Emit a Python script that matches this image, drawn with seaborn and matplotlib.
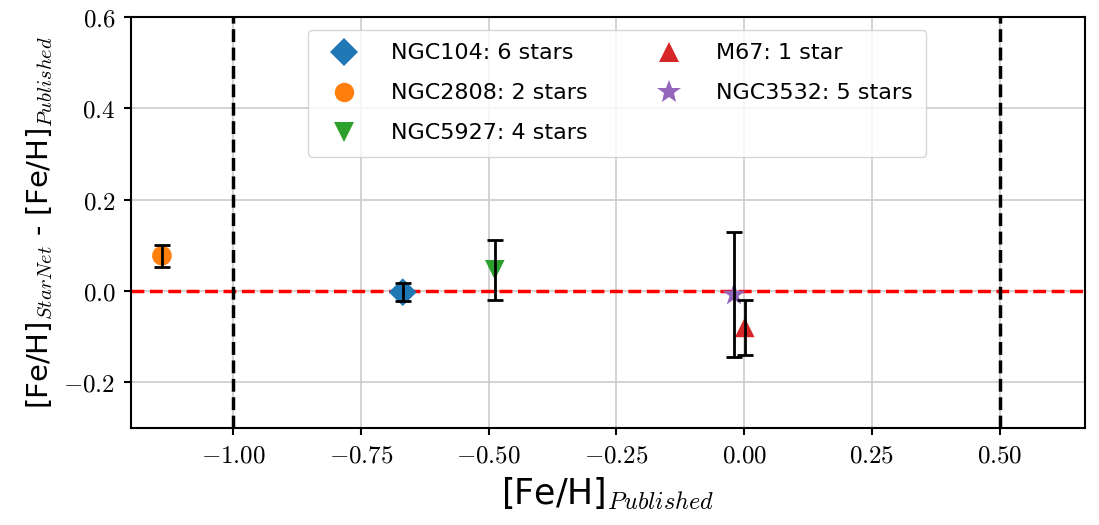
import matplotlib
matplotlib.use("Agg")
import matplotlib.pyplot as plt
from matplotlib.ticker import FuncFormatter
import seaborn as sns
import pandas as pd

clusters = ["NGC104: 6 stars", "NGC2808: 2 stars", "NGC5927: 4 stars", "M67: 1 star", "NGC3532: 5 stars"]
feh_published = [-0.668, -1.139, -0.488, 0.001, -0.02]
feh_diff = [-0.003, 0.077, 0.046, -0.08, -0.008]
feh_err = [0.02, 0.024, 0.065, 0.06, 0.136]
markers_list = ["D", "o", "v", "^", "*"]
marker_sizes = [200, 200, 200, 200, 320]
colors = ["#1f77b4", "#ff7f0e", "#2ca02c", "#d62728", "#9467bd"]

df = pd.DataFrame({"cluster": clusters, "x": feh_published, "y": feh_diff, "err": feh_err})

sns.set_style("ticks")
plt.rcParams["mathtext.fontset"] = "cm"
plt.rcParams["font.family"] = ["DejaVu Sans"]
plt.rcParams["text.color"] = "black"
plt.rcParams["axes.labelcolor"] = "black"
plt.rcParams["xtick.color"] = "black"
plt.rcParams["ytick.color"] = "black"

fig, ax = plt.subplots(figsize=(10.99, 5.25), dpi=100)
fig.subplots_adjust(left=0.119, right=0.987, top=0.968, bottom=0.185)

sns.scatterplot(data=df, x="x", y="y", hue="cluster", style="cluster", size="cluster",
                hue_order=clusters, style_order=clusters, size_order=clusters,
                palette=dict(zip(clusters, colors)),
                markers=dict(zip(clusters, markers_list)),
                sizes=dict(zip(clusters, marker_sizes)),
                edgecolor="none", ax=ax, zorder=3)

ax.errorbar(df["x"], df["y"], yerr=df["err"], fmt="none", ecolor="black",
            elinewidth=2, capsize=6, capthick=2, zorder=4)

ax.axhline(0.0, color="red", ls="--", lw=2.5, zorder=2)
ax.axvline(-1.0, color="black", ls="--", lw=2.5, zorder=2)
ax.axvline(0.5, color="black", ls="--", lw=2.5, zorder=2)

ax.set_xlim(-1.2, 0.666)
ax.set_ylim(-0.3, 0.6)
ax.set_xticks([-1.0, -0.75, -0.5, -0.25, 0.0, 0.25, 0.5])
ax.set_yticks([-0.2, 0.0, 0.2, 0.4, 0.6])
ax.xaxis.set_major_formatter(FuncFormatter(lambda v, p: r"$%.2f$" % v))
ax.yaxis.set_major_formatter(FuncFormatter(lambda v, p: r"$%.1f$" % v))
ax.tick_params(labelsize=18, width=1.5, length=5, pad=6)
ax.grid(True, color="#cccccc", lw=1.2, zorder=0)
ax.set_axisbelow(True)
for s in ax.spines.values():
    s.set_linewidth(1.5)
    s.set_color("black")

ax.set_xlabel(r"[Fe/H]$_{Published}$", fontsize=25, labelpad=6)
ax.set_ylabel(r"[Fe/H]$_{StarNet}$ - [Fe/H]$_{Published}$", fontsize=21, labelpad=6)

handles, labels = ax.get_legend_handles_labels()
ms = dict(zip(clusters, [14, 14, 14, 14, 18]))
for h, l in zip(handles, labels):
    try:
        h.set_markersize(ms.get(l, 14))
    except Exception:
        pass
ax.legend(handles, labels, loc="upper center", bbox_to_anchor=(0.51, 0.968),
          borderaxespad=0, ncol=2, fontsize=16, frameon=True, framealpha=0.8,
          borderpad=0.6, handletextpad=1.1, columnspacing=2.7, labelspacing=0.9,
          edgecolor="#cccccc")

fig.savefig("out.png", dpi=100)
